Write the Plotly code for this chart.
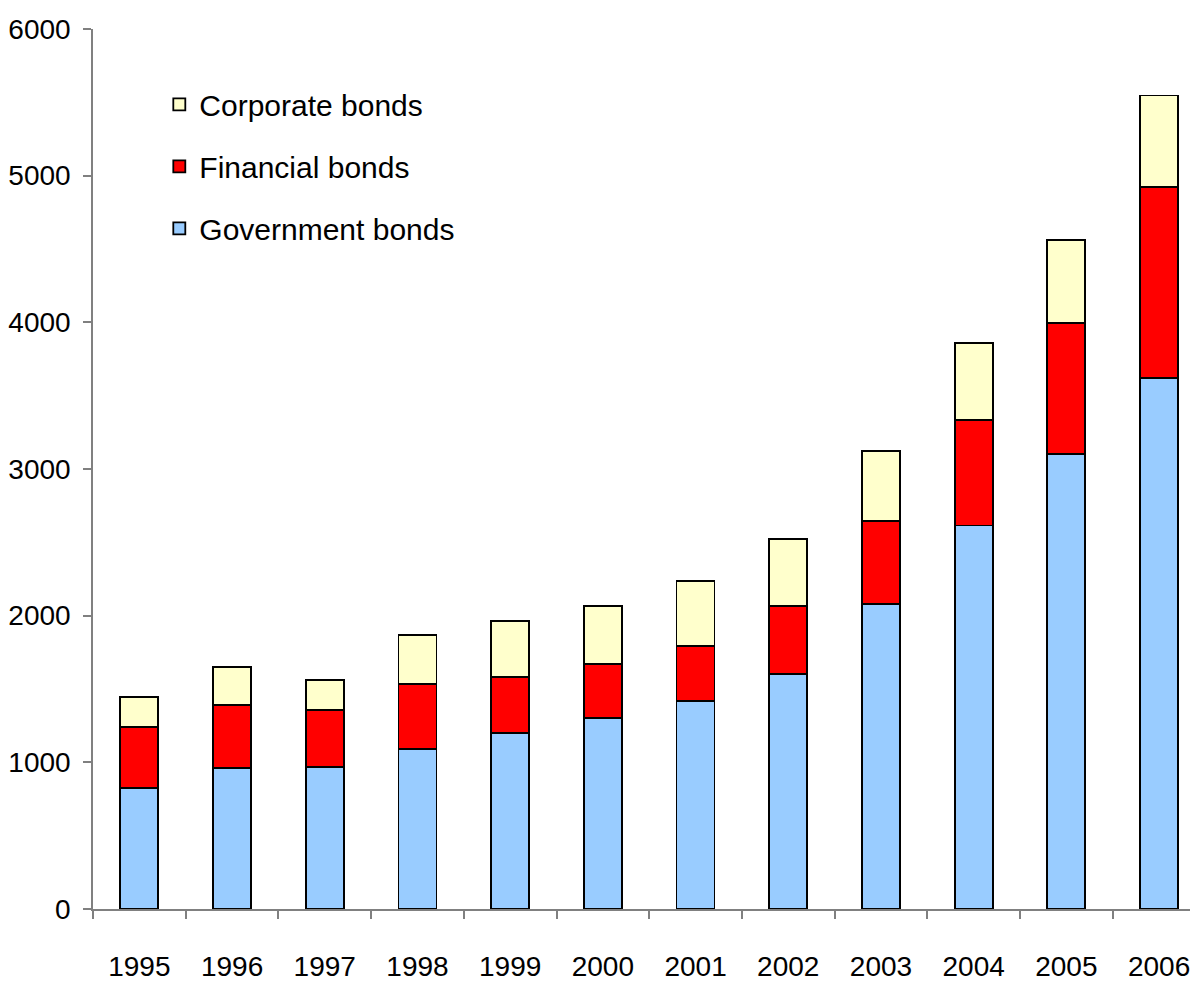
import plotly.graph_objects as go

years = ["1995", "1996", "1997", "1998", "1999", "2000",
         "2001", "2002", "2003", "2004", "2005", "2006"]

# stacked segments (bar heights, not cumulative)
government = [825, 961, 968, 1091, 1200, 1302, 1418, 1602, 2080, 2615, 3105, 3620]
financial = [416, 430, 389, 443, 382, 368, 375, 464, 565, 717, 890, 1303]
corporate = [204, 259, 204, 334, 382, 396, 443, 457, 478, 527, 566, 624]

FONT = "Liberation Sans Narrow, Arial Narrow, Liberation Sans, Arial, sans-serif"

fig = go.Figure()

series = [
    ("Government bonds", government, "#99CCFF", 3),
    ("Financial bonds", financial, "#FF0000", 2),
    ("Corporate bonds", corporate, "#FFFFCC", 1),
]
for name, vals, col, rank in series:
    fig.add_trace(go.Bar(
        x=years,
        y=vals,
        name=name,
        legendgroup=name,
        legendrank=rank,
        marker=dict(color=col, line=dict(color="black", width=1.8)),
    ))

# page body adds an 8px margin, so the figure is a bit smaller than the window
fig.update_layout(
    barmode="stack",
    bargap=0.59,
    width=1190,
    height=976,
    margin=dict(l=85, r=0, t=21, b=75),
    paper_bgcolor="white",
    plot_bgcolor="white",
    font=dict(family=FONT, size=28, color="black"),
    showlegend=True,
    legend=dict(
        x=0.06, y=0.944, xanchor="left", yanchor="top",
        traceorder="grouped",
        tracegroupgap=20,
        bgcolor="rgba(0,0,0,0)",
        font=dict(family=FONT, size=30, color="black"),
    ),
    xaxis=dict(
        type="category",
        range=[-0.5, 11.42],
        automargin=False,
        showline=True,
        linecolor="#808080",
        linewidth=1.5,
        ticks="outside",
        tickson="boundaries",
        ticklen=8,
        tickcolor="#808080",
        tickwidth=1.5,
        ticklabelstandoff=32,
        showgrid=False,
        zeroline=False,
    ),
    yaxis=dict(
        range=[0, 6000],
        automargin=False,
        tickvals=[0, 1000, 2000, 3000, 4000, 5000, 6000],
        showline=True,
        linecolor="#808080",
        linewidth=1.5,
        ticks="outside",
        ticklen=8,
        tickcolor="#808080",
        tickwidth=1.5,
        ticklabelstandoff=7,
        showgrid=False,
        zeroline=False,
    ),
)

fig.write_html("out.html")
